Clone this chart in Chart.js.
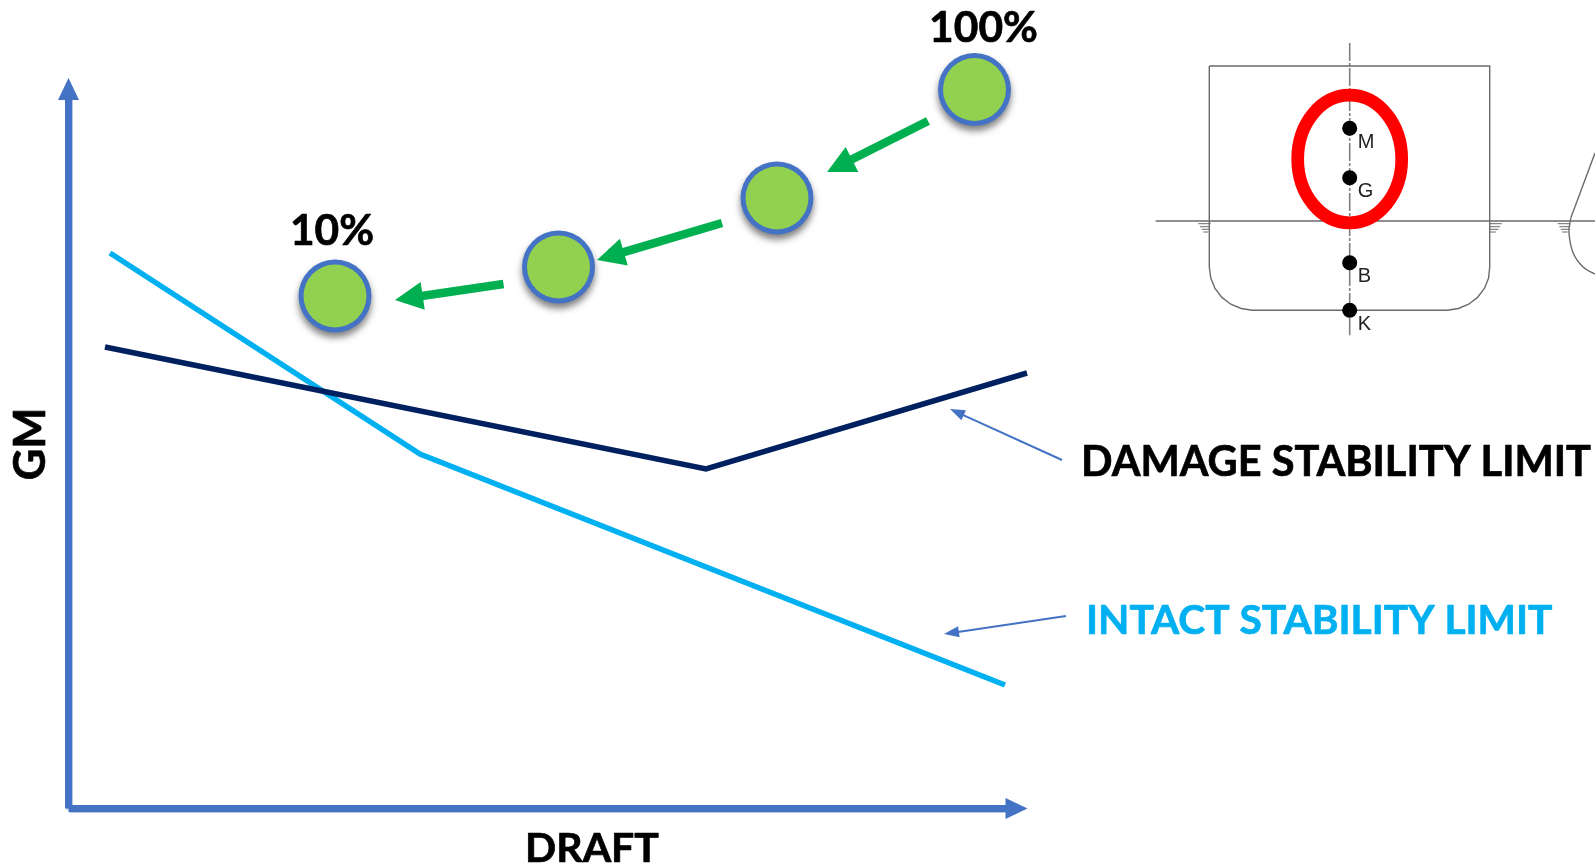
<!DOCTYPE html>
<html>
<head>
<meta charset="utf-8">
<title>GM limit curves</title>
<style>
  html, body { margin: 0; background: #fff; overflow: hidden; }
  canvas { display: block; }
</style>
<script src="https://cdn.jsdelivr.net/npm/chart.js@4"></script>
</head>
<body>
<canvas id="chart" width="1595" height="866"></canvas>
<script>
// limit curves, draft along x and GM along y
const intactDraft = [41.5, 351.5, 936.5];
const intactGM = [555.5, 354.5, 123.5];
const damageDraft = [36.5, 637.5, 958.5];
const damageGM = [461.5, 339.5, 435.5];

// loading conditions, 100% down to 10%
const loadDraft = [906, 708.5, 490, 266.5];
const loadGM = [719, 610.5, 541.5, 512.5];

// arrows as [tail x, tail y, tip x, tip y]
const loadArrows = [
  [859.5, 687.5, 758.5, 636.5],
  [653.5, 585.5, 528.5, 548.5],
  [435, 524.5, 326.5, 508.5]
];
const calloutArrows = [
  [993.5, 348.5, 881.5, 399.5],
  [997.5, 192.5, 875.5, 174.5]
];
const axisArrows = [
  [0, 0, 0, 730.5],
  [0, 0, 959, 0]
];

// midship section, measured from the keel on the centreline
const hullX = [-140.4, -140.4, -138.9, -134.7, -127.8, -118.9, -108.5, -97.4, 97.6, 108.7, 119, 127.8, 134.7, 138.9, 140, 140, -140.4];
const hullY = [244.3, 43.3, 32.3, 21.8, 12.9, 6.1, 1.8, 0, 0, 1.8, 6.1, 12.9, 21.8, 32.3, 43.3, 244.3, 244.3];
const bowSideX = [245.3, 221];
const bowSideY = [157.3, 92];
const bowBilgeX = [221, 219.3, 223.6, 233.6, 245.3];
const bowBilgeY = [92, 77.3, 57, 43, 36.3];
const waterlineX = [-194, 245.3];
const waterlineY = [89.3, 89.3];
const centrelineX = [0, 0];
const centrelineY = [267.3, -25];
const shipPointNames = ['M', 'G', 'B', 'K'];
const shipPointHeights = [182, 132.6, 47.6, 0];

// waterline symbols, [from x, to x, y]
const waterTicks = [
  [-151.4, -139, 86.6], [-149.7, -140.4, 83.6], [-148, -140.4, 81], [-146.4, -141.4, 78.3],
  [139.3, 152, 86.6], [139.3, 150.3, 83.6], [139.3, 148.7, 81], [140.3, 146.3, 78.3],
  [208, 220.3, 86.6], [209.7, 219.6, 83.6], [211, 219.6, 81], [212.4, 218, 78.3]
];

const BLUE = '#4472C4';
const GREEN = '#00B050';
const CYAN = '#00B0F0';
const NAVY = '#002060';
const SHIP_GREY = '#6a6a6a';

const zip = (xs, ys) => xs.map((x, i) => ({ x: x, y: ys[i] }));

// shaft stops at the neck of the head, the plugin below fills the head itself
function arrowDataset(a, color, width, headLength, headWidth, extra) {
  const len = Math.hypot(a[2] - a[0], a[3] - a[1]);
  const t = (len - headLength + 1) / len;
  return Object.assign({
    data: [{ x: a[0], y: a[1] }, { x: a[0] + (a[2] - a[0]) * t, y: a[1] + (a[3] - a[1]) * t }],
    borderColor: color,
    borderWidth: width,
    arrowHead: { tip: { x: a[2], y: a[3] }, length: headLength, width: headWidth }
  }, extra);
}

const shipAxes = { xAxisID: 'shipX', yAxisID: 'shipY' };
const shipLine = Object.assign({ borderColor: SHIP_GREY, borderWidth: 1.4 }, shipAxes);

const tickPoints = [];
waterTicks.forEach(t => {
  tickPoints.push({ x: t[0], y: t[2] }, { x: t[1], y: t[2] }, { x: NaN, y: NaN });
});

const datasets = [
  // green face sits on a larger blue disc, so the shadow only falls outside the rim
  {
    label: 'Loading condition',
    data: zip(loadDraft, loadGM),
    showLine: false,
    pointRadius: 31.5,
    pointBackgroundColor: '#92D050',
    pointBorderWidth: 0
  },
  {
    data: zip(loadDraft, loadGM),
    showLine: false,
    pointRadius: 36.5,
    pointBackgroundColor: BLUE,
    pointBorderWidth: 0,
    shadow: { color: 'rgba(0,0,0,0.5)', blur: 7, x: 0, y: 5 }
  },
  Object.assign({ data: shipPointHeights.map(h => ({ x: 0, y: h })), showLine: false, pointRadius: 7.5, pointBackgroundColor: '#000', pointBorderWidth: 0 }, shipAxes),
  ...loadArrows.map(a => arrowDataset(a, GREEN, 8.5, 28, 28)),
  ...calloutArrows.map(a => arrowDataset(a, BLUE, 2, 15, 11)),
  { label: 'Damage stability limit', data: zip(damageDraft, damageGM), borderColor: NAVY, borderWidth: 5.5 },
  { label: 'Intact stability limit', data: zip(intactDraft, intactGM), borderColor: CYAN, borderWidth: 5.5 },
  ...axisArrows.map(a => arrowDataset(a, BLUE, 7, 22, 21, { shadow: { color: 'rgba(68,114,196,0.4)', blur: 0, x: 1, y: 1 } })),
  Object.assign({ data: zip(hullX, hullY) }, shipLine),
  Object.assign({ data: zip(bowSideX, bowSideY) }, shipLine),
  Object.assign({ data: zip(bowBilgeX, bowBilgeY), tension: 0.4 }, shipLine),
  Object.assign({ data: zip(waterlineX, waterlineY) }, shipLine),
  Object.assign({ data: tickPoints }, shipLine, { borderWidth: 1 }),
  Object.assign({ data: zip(centrelineX, centrelineY), borderDash: [18, 2, 3, 2] }, shipLine, { borderColor: '#808080', borderWidth: 1.6 })
];

// per dataset drop shadow
const shadowPlugin = {
  id: 'datasetShadow',
  beforeDatasetDraw(chart, args) {
    const s = chart.data.datasets[args.index].shadow;
    if (!s) return;
    const ctx = chart.ctx;
    ctx.save();
    ctx.shadowColor = s.color;
    ctx.shadowBlur = s.blur;
    ctx.shadowOffsetX = s.x;
    ctx.shadowOffsetY = s.y;
  },
  afterDatasetDraw(chart, args) {
    if (chart.data.datasets[args.index].shadow) chart.ctx.restore();
  }
};

const overlayPlugin = {
  id: 'overlay',
  afterDatasetsDraw(chart) {
    const ctx = chart.ctx;
    const sc = chart.scales;

    // arrow heads
    chart.data.datasets.forEach(ds => {
      if (!ds.arrowHead) return;
      const h = ds.arrowHead;
      const from = ds.data[0];
      const tipX = sc.x.getPixelForValue(h.tip.x);
      const tipY = sc.y.getPixelForValue(h.tip.y);
      const ang = Math.atan2(tipY - sc.y.getPixelForValue(from.y), tipX - sc.x.getPixelForValue(from.x));
      ctx.save();
      ctx.translate(tipX, tipY);
      ctx.rotate(ang);
      ctx.fillStyle = ds.borderColor;
      ctx.beginPath();
      ctx.moveTo(0, 0);
      ctx.lineTo(-h.length, -h.width / 2);
      ctx.lineTo(-h.length, h.width / 2);
      ctx.closePath();
      ctx.fill();
      ctx.restore();
    });

    // red ring round M and G
    ctx.save();
    ctx.strokeStyle = '#FF0000';
    ctx.lineWidth = 12.7;
    ctx.beginPath();
    ctx.ellipse(sc.shipX.getPixelForValue(0), sc.shipY.getPixelForValue(151.3), 52, 63.8, 0, 0, Math.PI * 2);
    ctx.stroke();
    ctx.restore();

    // ship point letters
    ctx.save();
    ctx.fillStyle = '#222';
    ctx.font = '20px "Liberation Sans"';
    ctx.textAlign = 'left';
    ctx.textBaseline = 'middle';
    shipPointNames.forEach((name, i) => {
      ctx.fillText(name, sc.shipX.getPixelForValue(0) + 8, sc.shipY.getPixelForValue(shipPointHeights[i]) + 14);
    });
    ctx.restore();

    // bold captions
    const captions = [
      { text: '100%', x: 983.5, y: 28, size: 42.5, align: 'center', color: '#000' },
      { text: '10%', x: 332, y: 231, size: 42.5, align: 'center', color: '#000' },
      { text: 'DRAFT', x: 592, y: 849, size: 41, align: 'center', color: '#000' },
      { text: 'DAMAGE STABILITY LIMIT', x: 1081, y: 463, size: 41.5, align: 'left', color: '#000' },
      { text: 'INTACT STABILITY LIMIT', x: 1086, y: 621, size: 40.7, align: 'left', color: CYAN }
    ];
    ctx.save();
    ctx.textBaseline = 'middle';
    ctx.lineJoin = 'round';
    ctx.lineWidth = 0.7;
    captions.forEach(c => {
      ctx.font = 'bold ' + c.size + 'px Lato';
      ctx.textAlign = c.align;
      ctx.fillStyle = c.color;
      ctx.strokeStyle = c.color;
      ctx.fillText(c.text, c.x, c.y);
      ctx.strokeText(c.text, c.x, c.y);
    });
    ctx.font = 'bold 43.5px Lato';
    ctx.translate(30.5, 444);
    ctx.rotate(-Math.PI / 2);
    ctx.textAlign = 'center';
    ctx.fillStyle = '#000';
    ctx.strokeStyle = '#000';
    ctx.fillText('GM', 0, 0);
    ctx.strokeText('GM', 0, 0);
    ctx.restore();
  }
};

new Chart(document.getElementById('chart'), {
  type: 'scatter',
  data: { datasets: datasets },
  options: {
    responsive: false,
    animation: false,
    clip: false,
    layout: { padding: 0, autoPadding: false },
    elements: { point: { radius: 0 }, line: { borderCapStyle: 'butt', borderJoinStyle: 'miter', tension: 0 } },
    datasets: { scatter: { showLine: true, clip: false } },
    plugins: { legend: { display: false }, tooltip: { enabled: false }, title: { display: false } },
    scales: {
      x: { type: 'linear', display: false, min: -68.5, max: 1526.5 },
      y: { type: 'linear', display: false, min: -57.5, max: 808.5 },
      shipX: { type: 'linear', axis: 'x', display: false, min: -1349.7, max: 245.3 },
      shipY: { type: 'linear', axis: 'y', display: false, min: -555.7, max: 310.3 }
    }
  },
  plugins: [shadowPlugin, overlayPlugin]
});
</script>
</body>
</html>
